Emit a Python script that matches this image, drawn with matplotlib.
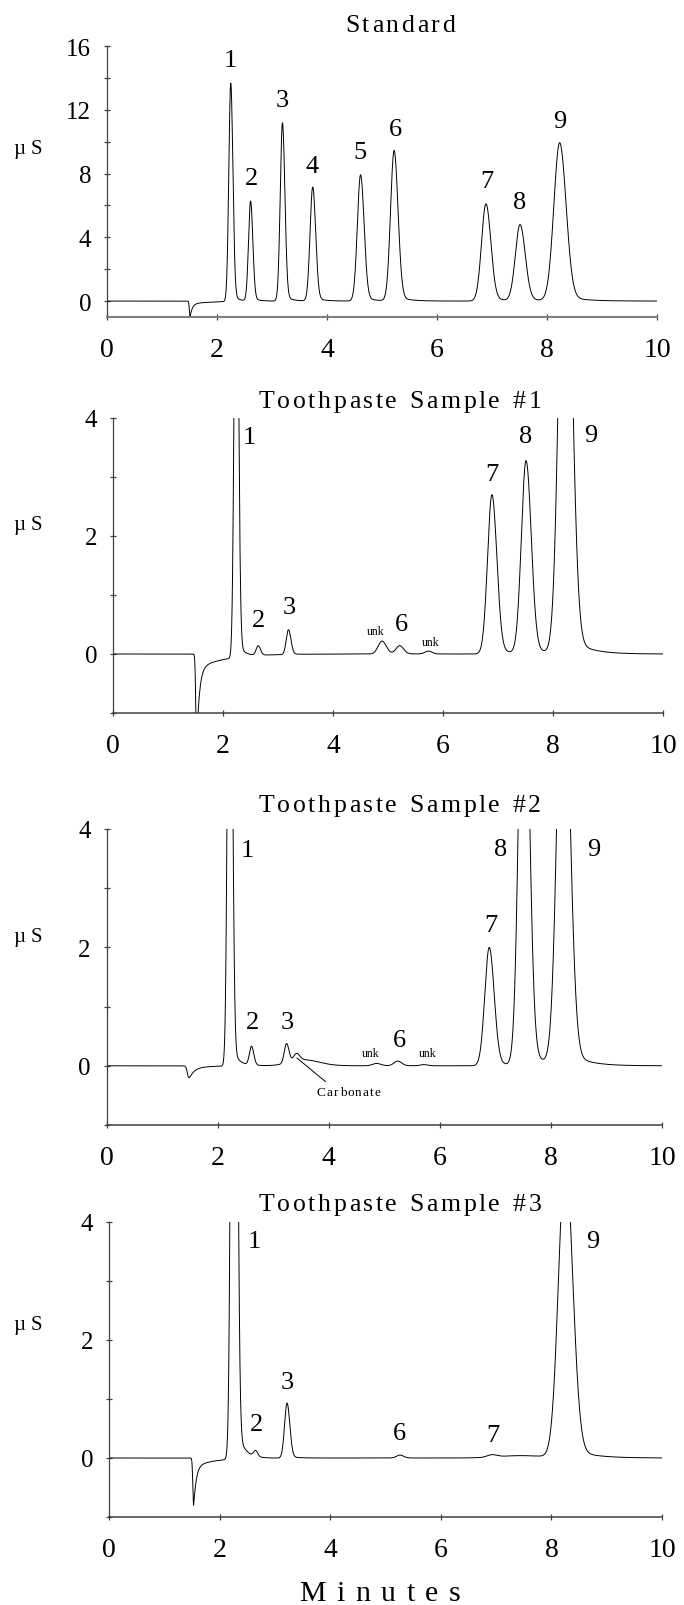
import numpy as np
import matplotlib
matplotlib.use('Agg')
import matplotlib.pyplot as plt
from matplotlib.ticker import MultipleLocator

plt.rcParams['font.family'] = ['Liberation Serif', 'DejaVu Serif']

W, H = 684, 1606

# peak tables (retention time in min, height in uS, peak sigma in min)
std_times = [2.25, 2.61, 3.19, 3.74, 4.61, 5.22, 6.89, 7.51, 8.23]
std_heights = [13.7, 6.27, 11.18, 7.15, 7.92, 9.44, 6.1, 4.78, 9.92]
std_widths = [0.035, 0.037, 0.04, 0.048, 0.058, 0.064, 0.08, 0.085, 0.105]
std_dip = [1.51, 1.0, 0.012, 0.18, 0.4]  # time, depth, width, slow recovery, recovery tau

s1_times = [2.24, 2.64, 3.19, 4.89, 5.21, 5.73, 6.89, 7.51, 8.22]
s1_heights = [8.5, 0.16, 0.42, 0.22, 0.14, 0.05, 2.7, 3.27, 9.0]
s1_widths = [0.035, 0.037, 0.04, 0.07, 0.065, 0.06, 0.08, 0.085, 0.105]
s1_dip = [1.52, 1.5, 0.015, 0.25, 0.5]

s2_times = [2.22, 2.61, 3.24, 3.42, 3.55, 4.86, 5.24, 5.71, 6.89, 7.51, 8.22]
s2_heights = [11.0, 0.32, 0.33, 0.12, 0.1, 0.04, 0.08, 0.02, 2.0, 8.0, 7.5]
s2_widths = [0.037, 0.037, 0.04, 0.05, 0.25, 0.07, 0.065, 0.06, 0.08, 0.085, 0.105]
s2_dip = [1.48, 0.2, 0.025, 0.06, 0.25]

s3_times = [2.26, 2.65, 3.22, 5.26, 6.92, 7.45, 8.25]
s3_heights = [20.0, 0.1, 0.93, 0.05, 0.04, 0.04, 5.1]
s3_widths = [0.042, 0.035, 0.045, 0.06, 0.08, 0.4, 0.12]
s3_dip = [1.53, 0.8, 0.014, 0.15, 0.35]

titles = ['Standard', 'Toothpaste Sample #1', 'Toothpaste Sample #2', 'Toothpaste Sample #3']

# peak labels: text, time, uS
std_labels = [('1', 2.25, 15.1), ('2', 2.63, 7.7), ('3', 3.18, 12.6), ('4', 3.72, 8.5),
              ('5', 4.6, 9.35), ('6', 5.24, 10.8), ('7', 6.9, 7.56), ('8', 7.5, 6.2),
              ('9', 8.23, 11.3)]
s1_labels = [('1', 2.48, 3.68), ('2', 2.64, 0.57), ('3', 3.21, 0.79), ('unk', 4.77, 0.39),
             ('6', 5.25, 0.51), ('unk', 5.77, 0.2), ('7', 6.89, 3.05), ('8', 7.51, 3.7),
             ('9', 8.68, 3.72)]
s2_labels = [('1', 2.54, 3.64), ('2', 2.63, 0.74), ('3', 3.25, 0.74), ('unk', 4.76, 0.22),
             ('6', 5.27, 0.43), ('unk', 5.78, 0.22), ('7', 6.92, 2.37), ('8', 7.1, 3.67),
             ('9', 8.78, 3.67)]
s3_labels = [('1', 2.63, 3.68), ('2', 2.67, 0.58), ('3', 3.22, 1.28), ('6', 5.26, 0.42),
             ('7', 6.95, 0.39), ('9', 8.74, 3.68)]

minutes = np.linspace(0, 10, 6001)


def chromatogram(times, heights, widths, dip):
    y = np.zeros_like(minutes)
    for t0, h, s in zip(times, heights, widths):
        d = minutes - t0
        left = np.exp(-0.5 * (d / s) ** 2)
        core = np.exp(-0.5 * (d / (1.1 * s)) ** 2)
        tail = 0.04 * np.exp(-np.clip(d, 0, None) / (3 * s))
        y += h * np.where(d < 0, left, core + tail * (1 - core))
    # system (water) dip
    t0, depth, w, slow, tau = dip
    d = minutes - t0
    pos = np.clip(d, 0, None)
    y -= depth * np.where(d < 0, np.exp(-0.5 * (d / w) ** 2), np.exp(-pos / (3 * w)))
    y -= slow * (1 - np.exp(-pos / 0.02)) * np.exp(-pos / tau)
    return y


def spaced_text(fig, xc, yb, s, size, track):
    # letter-spaced text centred at xc, baseline at yb (pixels from top-left)
    r = fig.canvas.get_renderer()
    widths = []
    for ch in s:
        if ch == ' ':
            widths.append(0.3 * size * fig.dpi / 72)
        else:
            t = fig.text(0, 0, ch, fontsize=size)
            widths.append(t.get_window_extent(r).width)
            t.remove()
    total = sum(widths) + track * (len(s) - 1)
    x = xc - total / 2
    for ch, w in zip(s, widths):
        if ch != ' ':
            fig.text(x / W, 1 - yb / H, ch, fontsize=size, ha='left', va='baseline')
        x += w + track


fig = plt.figure(figsize=(W / 100, H / 100), dpi=100)

panels = [
    (chromatogram(std_times, std_heights, std_widths, std_dip), std_labels, (107, 657, 47, 318), 16, 4, 2),
    (chromatogram(s1_times, s1_heights, s1_widths, s1_dip), s1_labels, (113, 663, 419, 714), 4, 2, 1),
    (chromatogram(s2_times, s2_heights, s2_widths, s2_dip), s2_labels, (106.5, 662, 830, 1126), 4, 2, 1),
    (chromatogram(s3_times, s3_heights, s3_widths, s3_dip), s3_labels, (109, 662, 1223, 1518), 4, 2, 1),
]
title_y = [32, 408, 812, 1211]
unit_y = [154, 530, 942, 1330]

for i, (trace, labels, box, ytop, major, minor) in enumerate(panels):
    l, r, top, bot = box
    ax = fig.add_axes([l / W, 1 - bot / H, (r - l) / W, (bot - top) / H])
    ax.plot(minutes, trace, color='black', lw=0.7)
    ax.set_xlim(0, 10)
    ax.set_ylim(-1, ytop)
    ax.spines['top'].set_visible(False)
    ax.spines['right'].set_visible(False)
    ax.spines['left'].set_color('#404040')
    ax.spines['left'].set_linewidth(0.9)
    ax.spines['bottom'].set_color('#808080' if i == 0 else '#404040')
    ax.spines['bottom'].set_linewidth(1.5 if i == 0 else 1.1)
    ax.set_xticks(range(0, 11, 2))
    ax.yaxis.set_major_locator(MultipleLocator(major))
    ax.yaxis.set_minor_locator(MultipleLocator(minor))
    ax.tick_params(axis='x', direction='inout', length=5, width=0.9, pad=12, labelsize=20,
                   colors='#404040', labelcolor='black')
    ax.tick_params(axis='y', which='both', direction='inout', length=5, width=0.9, pad=9,
                   labelsize=18, colors='#404040', labelcolor='black')
    for txt, x, y in labels:
        if txt == 'unk':
            ax.text(x, y, txt, fontsize=8.5, ha='center', va='center')
        else:
            ax.text(x, y, txt, fontsize=19, ha='center', va='center')
    if i == 2:
        ax.plot([3.43, 3.94], [0.13, -0.265], color='black', lw=0.7)
    spaced_text(fig, 400, title_y[i], titles[i], 18.5, 2.6)
    spaced_text(fig, 28, unit_y[i], 'µS', 15, 5)

# carbonate note on sample 2
ax3 = fig.axes[2]
xc, yc = ax3.transData.transform((4.36, -0.43))
spaced_text(fig, xc, H - yc + 4, 'Carbonate', 9.5, 1.1)

spaced_text(fig, 380, 1601, 'Minutes', 21.5, 10.5)

fig.savefig('out.png', dpi=100)
